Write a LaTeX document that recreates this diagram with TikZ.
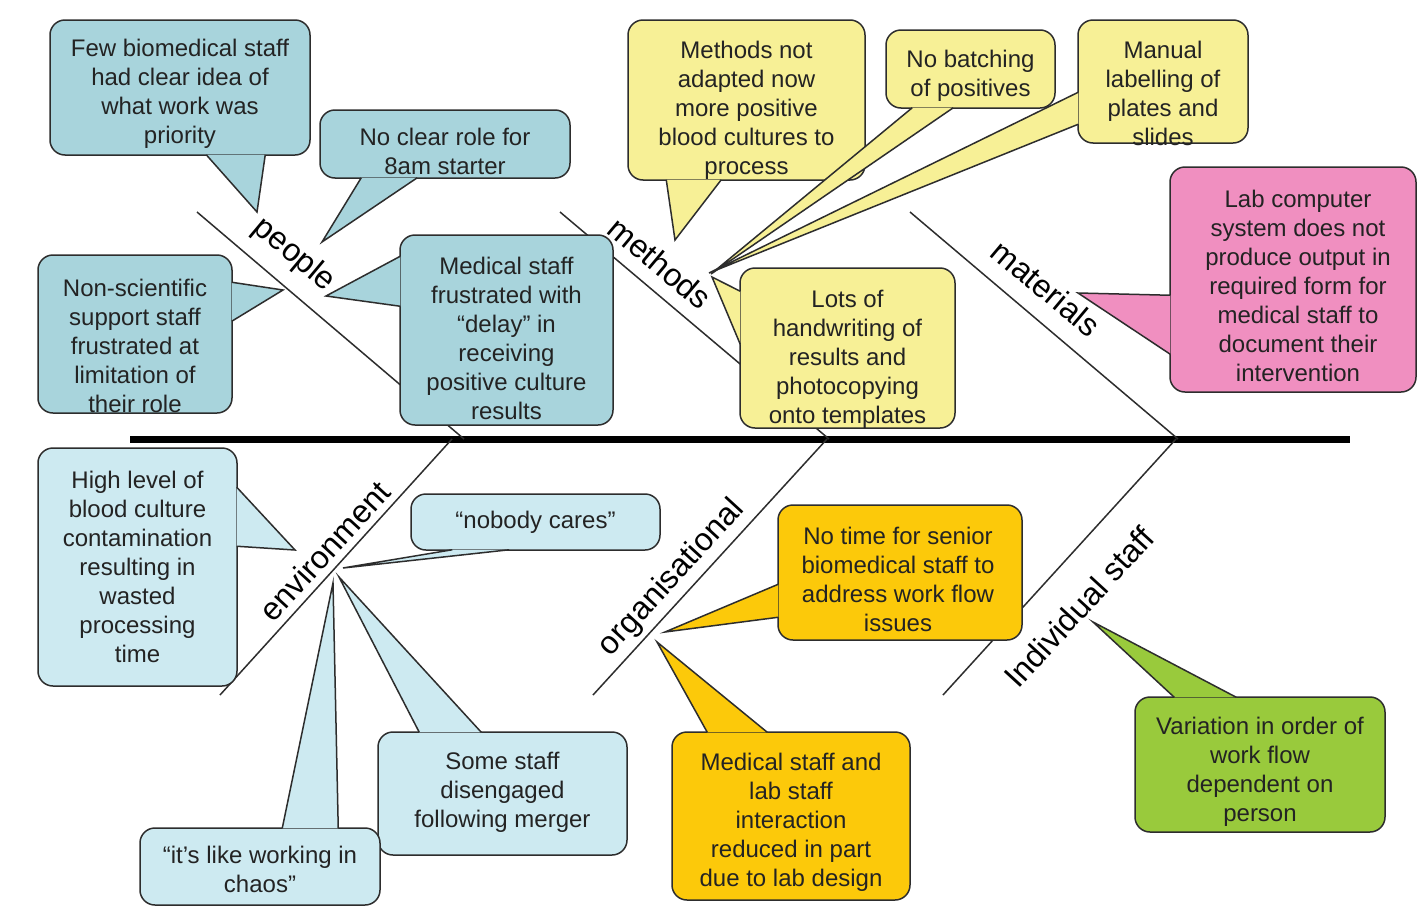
\documentclass[tikz,border=0pt]{standalone}
\usepackage{fontspec}
\setmainfont{Liberation Sans}

\definecolor{peopleblue}{RGB}{168,212,220}
\definecolor{envblue}{RGB}{205,234,241}
\definecolor{methyellow}{RGB}{247,240,150}
\definecolor{matpink}{RGB}{240,143,192}
\definecolor{orggold}{RGB}{252,201,10}
\definecolor{indgreen}{RGB}{153,202,60}
\definecolor{rimgray}{RGB}{45,45,45}
\definecolor{inkgray}{RGB}{35,35,35}

\newcommand{\notefont}{\fontsize{24pt}{29pt}\selectfont}
\newcommand{\bonefont}{\fontsize{32pt}{38pt}\selectfont}

\begin{document}
\begin{tikzpicture}[x=1pt,y=-1pt]
			\tikzstyle{spine}=[draw,line width=7pt,black]
			\tikzstyle{bone}=[draw,line width=1.5pt,rimgray]
			\tikzstyle{box}=[draw=rimgray,line width=1.5pt,rounded corners=15pt,inner sep=0pt]
			\tikzstyle{tail}=[draw=rimgray,line width=1.5pt,line join=miter]
			\tikzstyle{note}=[align=center,inner sep=0pt,text=inkgray,font=\notefont]
			\tikzstyle{cause}=[inner sep=0pt,text=black,font=\bonefont]
			
			\path[fill=white,use as bounding box] (0,0) rectangle (1417,908);
			
			\coordinate (tailend) at (130,439);
			\coordinate (headend) at (1350,439);
			\coordinate (pe0) at (197,212);
			\coordinate (pe1) at (464,439);
			\coordinate (me0) at (560,212);
			\coordinate (me1) at (829,439);
			\coordinate (ma0) at (910,212);
			\coordinate (ma1) at (1178,439);
			\coordinate (en0) at (220,695);
			\coordinate (en1) at (452,439);
			\coordinate (or0) at (593,695);
			\coordinate (or1) at (827,439);
			\coordinate (in0) at (943,695);
			\coordinate (in1) at (1176,439);
			
			\draw[spine] (tailend) -- (headend);
			\draw[bone] (pe0) -- (pe1);
			\draw[bone] (me0) -- (me1);
			\draw[bone] (ma0) -- (ma1);
			\draw[bone] (en0) -- (en1);
			\draw[bone] (or0) -- (or1);
			\draw[bone] (in0) -- (in1);
			
			\node[cause,rotate=-40] (lpeople) at (294,255) {people};
			\node[cause,rotate=-40] (lmethods) at (660,263) {methods};
			\node[cause,rotate=-40] (lmaterials) at (1046,288) {materials};
			\node[cause,rotate=47.5] (lenv) at (325,551) {environment};
			\node[cause,rotate=47.5] (lorg) at (672,578) {organisational};
			\node[cause,rotate=47.5] (lindiv) at (1079,607) {Individual staff};
			
			\node[box,fill=peopleblue,minimum width=260pt,minimum height=135pt] (few) at (180,87.5) {};
			\coordinate (fewtip) at (257,212);
			\fill[peopleblue] ([xshift=157pt,yshift=1pt]few.south west) -- (fewtip) -- ([xshift=216pt,yshift=1pt]few.south west) -- cycle;
			\draw[tail] ([xshift=157pt,yshift=1pt]few.south west) -- (fewtip) -- ([xshift=216pt,yshift=1pt]few.south west);
			\node[note] (fewtxt) at ([yshift=-6pt]few.center) {Few biomedical staff\\had clear idea of\\what work was\\priority};
			
			\node[box,fill=peopleblue,minimum width=250pt,minimum height=68pt] (role) at (445,144) {};
			\coordinate (roletip) at (322,242);
			\fill[peopleblue] ([xshift=42pt,yshift=1pt]role.south west) -- (roletip) -- ([xshift=98pt,yshift=1pt]role.south west) -- cycle;
			\draw[tail] ([xshift=42pt,yshift=1pt]role.south west) -- (roletip) -- ([xshift=98pt,yshift=1pt]role.south west);
			\node[note] (roletxt) at ([yshift=-7pt]role.center) {No clear role for\\8am starter};
			
			\node[box,fill=peopleblue,minimum width=194pt,minimum height=158pt] (support) at (135,334) {};
			\coordinate (supporttip) at (283,290);
			\fill[peopleblue] ([xshift=-1pt,yshift=-28pt]support.north east) -- (supporttip) -- ([xshift=-1pt,yshift=-67pt]support.north east) -- cycle;
			\draw[tail] ([xshift=-1pt,yshift=-28pt]support.north east) -- (supporttip) -- ([xshift=-1pt,yshift=-67pt]support.north east);
			\node[note] (supporttxt) at ([yshift=-11.5pt]support.center) {Non-scientific\\support staff\\frustrated at\\limitation of\\their role};
			
			\node[box,fill=peopleblue,minimum width=213pt,minimum height=190pt] (delay) at (506.5,330) {};
			\coordinate (delaytip) at (326,296);
			\fill[peopleblue] ([xshift=1pt,yshift=-22pt]delay.north west) -- (delaytip) -- ([xshift=1pt,yshift=-72pt]delay.north west) -- cycle;
			\draw[tail] ([xshift=1pt,yshift=-22pt]delay.north west) -- (delaytip) -- ([xshift=1pt,yshift=-72pt]delay.north west);
			\node[note] (delaytxt) at ([yshift=-8pt]delay.center) {Medical staff\\frustrated with\\“delay” in\\receiving\\positive culture\\results};
			
			\node[box,fill=methyellow,minimum width=237pt,minimum height=160pt] (adapt) at (746.5,100) {};
			\coordinate (adapttip) at (675,240);
			\fill[methyellow] ([xshift=39pt,yshift=1pt]adapt.south west) -- (adapttip) -- ([xshift=94pt,yshift=1pt]adapt.south west) -- cycle;
			\draw[tail] ([xshift=39pt,yshift=1pt]adapt.south west) -- (adapttip) -- ([xshift=94pt,yshift=1pt]adapt.south west);
			\node[note] (adapttxt) at ([yshift=-10pt]adapt.center) {Methods not\\adapted now\\more positive\\blood cultures to\\process};
			
			\node[box,fill=methyellow,minimum width=169pt,minimum height=78pt] (batch) at (970.5,69) {};
			\coordinate (batchtip) at (711,274);
			\fill[methyellow] ([xshift=27pt,yshift=1pt]batch.south west) -- (batchtip) -- ([xshift=68pt,yshift=1pt]batch.south west) -- cycle;
			\draw[tail] ([xshift=27pt,yshift=1pt]batch.south west) -- (batchtip) -- ([xshift=68pt,yshift=1pt]batch.south west);
			\node[note] (batchtxt) at ([yshift=-7pt]batch.center) {No batching\\of positives};
			
			\node[box,fill=methyellow,minimum width=170pt,minimum height=123pt] (labels) at (1163,81.5) {};
			\coordinate (labelstip) at (709,273);
			\fill[methyellow] ([xshift=1pt,yshift=-73pt]labels.north west) -- (labelstip) -- ([xshift=1pt,yshift=-105pt]labels.north west) -- cycle;
			\draw[tail] ([xshift=1pt,yshift=-73pt]labels.north west) -- (labelstip) -- ([xshift=1pt,yshift=-105pt]labels.north west);
			\node[note] (labelstxt) at ([yshift=-11.5pt]labels.center) {Manual\\labelling of\\plates and\\slides};
			
			\node[box,fill=methyellow,minimum width=215pt,minimum height=160pt] (copy) at (847.5,348) {};
			\coordinate (copytip) at (712,277);
			\fill[methyellow] ([xshift=1pt,yshift=-24pt]copy.north west) -- (copytip) -- ([xshift=1pt,yshift=-77pt]copy.north west) -- cycle;
			\draw[tail] ([xshift=1pt,yshift=-24pt]copy.north west) -- (copytip) -- ([xshift=1pt,yshift=-77pt]copy.north west);
			\node[note] (copytxt) at ([yshift=-11.5pt]copy.center) {Lots of\\handwriting of\\results and\\photocopying\\onto templates};
			
			\node[box,fill=matpink,minimum width=246pt,minimum height=225pt] (output) at (1293,279.5) {};
			\coordinate (outputtip) at (1078,293);
			\fill[matpink] ([xshift=1pt,yshift=-129pt]output.north west) -- (outputtip) -- ([xshift=1pt,yshift=-188pt]output.north west) -- cycle;
			\draw[tail] ([xshift=1pt,yshift=-129pt]output.north west) -- (outputtip) -- ([xshift=1pt,yshift=-188pt]output.north west);
			\node[note] (outputtxt) at ([xshift=5pt,yshift=-6.5pt]output.center) {Lab computer\\system does not\\produce output in\\required form for\\medical staff to\\document their\\intervention};
			
			\node[box,fill=envblue,minimum width=199pt,minimum height=238pt] (contam) at (137.5,567) {};
			\coordinate (contamtip) at (295,550);
			\fill[envblue] ([xshift=-1pt,yshift=-40pt]contam.north east) -- (contamtip) -- ([xshift=-1pt,yshift=-99pt]contam.north east) -- cycle;
			\draw[tail] ([xshift=-1pt,yshift=-40pt]contam.north east) -- (contamtip) -- ([xshift=-1pt,yshift=-99pt]contam.north east);
			\node[note] (contamtxt) at (contam.center) {High level of\\blood culture\\contamination\\resulting in\\wasted\\processing\\time};
			
			\node[box,fill=envblue,minimum width=249pt,minimum height=56pt] (cares) at (535.5,522) {};
			\coordinate (carestip) at (343,568);
			\fill[envblue] ([xshift=42pt,yshift=1pt]cares.south west) -- (carestip) -- ([xshift=99pt,yshift=1pt]cares.south west) -- cycle;
			\draw[tail] ([xshift=42pt,yshift=1pt]cares.south west) -- (carestip) -- ([xshift=99pt,yshift=1pt]cares.south west);
			\node[note] (carestxt) at (cares.center) {“nobody cares”};
			
			\node[box,fill=envblue,minimum width=249pt,minimum height=123pt] (merger) at (502.5,793.5) {};
			\coordinate (mergertip) at (339,577);
			\fill[envblue] ([xshift=42pt,yshift=-1pt]merger.north west) -- (mergertip) -- ([xshift=104pt,yshift=-1pt]merger.north west) -- cycle;
			\draw[tail] ([xshift=42pt,yshift=-1pt]merger.north west) -- (mergertip) -- ([xshift=104pt,yshift=-1pt]merger.north west);
			\node[note] (mergertxt) at ([yshift=1pt]merger.center) {Some staff\\disengaged\\following merger};
			
			\node[box,fill=envblue,minimum width=240pt,minimum height=77pt] (chaos) at (260,866.5) {};
			\coordinate (chaostip) at (333,583);
			\fill[envblue] ([xshift=143pt,yshift=-1pt]chaos.north west) -- (chaostip) -- ([xshift=199pt,yshift=-1pt]chaos.north west) -- cycle;
			\draw[tail] ([xshift=143pt,yshift=-1pt]chaos.north west) -- (chaostip) -- ([xshift=199pt,yshift=-1pt]chaos.north west);
			\node[note] (chaostxt) at ([yshift=-2.5pt]chaos.center) {“it’s like working in\\chaos”};
			
			\node[box,fill=orggold,minimum width=244pt,minimum height=135pt] (senior) at (900,572.5) {};
			\coordinate (seniortip) at (665,632);
			\fill[orggold] ([xshift=1pt,yshift=-80pt]senior.north west) -- (seniortip) -- ([xshift=1pt,yshift=-113pt]senior.north west) -- cycle;
			\draw[tail] ([xshift=1pt,yshift=-80pt]senior.north west) -- (seniortip) -- ([xshift=1pt,yshift=-113pt]senior.north west);
			\node[note] (seniortxt) at ([xshift=-2pt,yshift=-6.5pt]senior.center) {No time for senior\\biomedical staff to\\address work flow\\issues};
			
			\node[box,fill=orggold,minimum width=238pt,minimum height=168pt] (design) at (791,816) {};
			\coordinate (designtip) at (657,642);
			\fill[orggold] ([xshift=36pt,yshift=-1pt]design.north west) -- (designtip) -- ([xshift=96pt,yshift=-1pt]design.north west) -- cycle;
			\draw[tail] ([xshift=36pt,yshift=-1pt]design.north west) -- (designtip) -- ([xshift=96pt,yshift=-1pt]design.north west);
			\node[note] (designtxt) at ([yshift=-6.5pt]design.center) {Medical staff and\\lab staff\\interaction\\reduced in part\\due to lab design};
			
			\node[box,fill=indgreen,minimum width=250pt,minimum height=135pt] (order) at (1260,764.5) {};
			\coordinate (ordertip) at (1093,622);
			\fill[indgreen] ([xshift=40pt,yshift=-1pt]order.north west) -- (ordertip) -- ([xshift=102pt,yshift=-1pt]order.north west) -- cycle;
			\draw[tail] ([xshift=40pt,yshift=-1pt]order.north west) -- (ordertip) -- ([xshift=102pt,yshift=-1pt]order.north west);
			\node[note] (ordertxt) at ([yshift=-7.5pt]order.center) {Variation in order of\\work flow\\dependent on\\person};
		\end{tikzpicture}
\end{document}
